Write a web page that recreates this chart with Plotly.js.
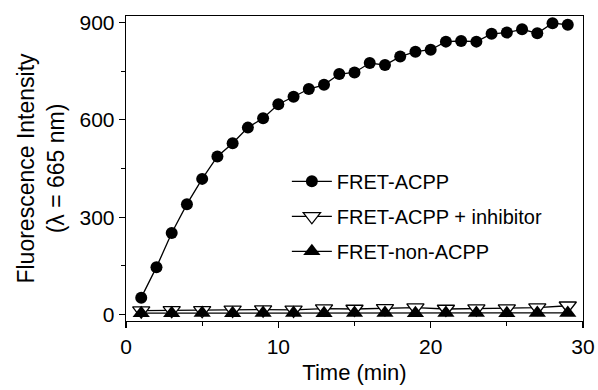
<!DOCTYPE html>
<html>
<head>
<meta charset="utf-8">
<script src="https://cdn.plot.ly/plotly-3.0.1.min.js"></script>
<style>html,body{margin:0;padding:0;background:#fff;}#chart{width:598px;height:390px;}</style>
</head>
<body>
<div id="chart"></div>
<script>
// Data
var timeAcpp = [1,2,3,4,5,6,7,8,9,10,11,12,13,14,15,16,17,18,19,20,21,22,23,24,25,26,27,28,29];
var fretAcpp = [52,146,251,340,418,487,528,576,605,648,671,695,708,741,746,775,769,795,810,816,841,843,841,865,869,879,867,898,893];
var timeCtrl = [1,3,5,7,9,11,13,15,17,19,21,23,25,27,29];
var fretInhib = [12,13,13,14,15,14,18,17,19,21,17,18,18,21,27];
var fretNonAcpp = [4,4,5,4,5,5,4,5,5,4,5,5,4,5,5];
var seriesNames = ["FRET-ACPP", "FRET-ACPP + inhibitor", "FRET-non-ACPP"];
var xTicks = [0,10,20,30];
var yTicks = [0,300,600,900];

var FONT = "Liberation Sans, Arial, sans-serif";
var lineStyle = {color:"#000", width:1.3};

var traces = [
  {x:timeAcpp, y:fretAcpp, name:seriesNames[0], mode:"lines+markers", legendgroup:"a",
   line:lineStyle, marker:{symbol:"circle", size:12, color:"#000"}},
  {x:timeCtrl, y:fretInhib, name:seriesNames[1], mode:"lines+markers", legendgroup:"b",
   line:lineStyle, marker:{symbol:"triangle-down", size:15, color:"#fff", line:{color:"#000", width:1.3}}},
  {x:timeCtrl, y:fretNonAcpp, name:seriesNames[2], mode:"lines+markers", legendgroup:"c",
   line:lineStyle, marker:{symbol:"triangle-up", size:15, color:"#000"}}
];

var axisCommon = {
  showgrid:false, zeroline:false, showline:true, linecolor:"#000", linewidth:1.3,
  mirror:true, ticks:"outside", ticklen:6, tickwidth:1.3, tickcolor:"#000",
  tickfont:{family:FONT, size:21, color:"#000"}
};

var layout = {
  width:598, height:390,
  margin:{l:126, r:15, t:16, b:69},
  paper_bgcolor:"#fff", plot_bgcolor:"#fff",
  font:{family:FONT, color:"#000"},
  showlegend:true,
  legend:{x:0.352, y:0.522, xanchor:"left", yanchor:"top", bgcolor:"rgba(0,0,0,0)",
          itemwidth:40,
          font:{family:FONT, size:20, color:"#000"}, tracegroupgap:6, traceorder:"grouped"},
  xaxis:Object.assign({}, axisCommon, {
    range:[0,30], tickvals:xTicks, ticktext:xTicks.map(String),
    minor:{tickvals:[5,15,25], ticks:"outside", ticklen:4, tickwidth:1.3, tickcolor:"#000"},
    title:{text:"Time (min)", font:{family:FONT, size:22, color:"#000"}, standoff:8}
  }),
  yaxis:Object.assign({}, axisCommon, {
    range:[-20,920], tickvals:yTicks, ticktext:yTicks.map(String),
    minor:{tickvals:[150,450,750], ticks:"outside", ticklen:4, tickwidth:1.3, tickcolor:"#000"},
    title:{text:"Fluorescence Intensity<br>(λ = 665 nm)", font:{family:FONT, size:23, color:"#000"}, standoff:8}
  })
};

Plotly.newPlot("chart", traces, layout, {displayModeBar:false, staticPlot:true});
</script>
</body>
</html>
